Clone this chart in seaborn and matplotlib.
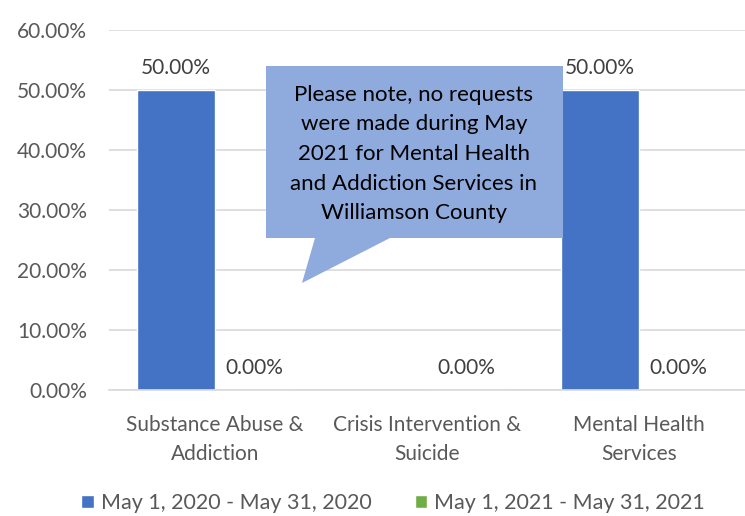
import seaborn as sns
import matplotlib.pyplot as plt
from matplotlib.patches import Polygon
from matplotlib.ticker import PercentFormatter
import pandas as pd
import numpy as np

categories = ['Substance Abuse &\nAddiction', 'Crisis Intervention &\nSuicide', 'Mental Health\nServices']
series_names = ['May 1, 2020 - May 31, 2020', 'May 1, 2021 - May 31, 2021']
values_2020 = [0.50, np.nan, 0.50]
values_2021 = [0.00, 0.00, 0.00]
colors = ['#4472C4', '#70AD47']
note = ('Please note, no requests\nwere made during May\n2021 for Mental Health\n'
        'and Addiction Services in\nWilliamson County')

df = pd.DataFrame({
    'category': categories * 2,
    'period': [series_names[0]] * 3 + [series_names[1]] * 3,
    'share': values_2020 + values_2021,
})

sns.set_theme(style='white')
plt.rcParams['font.family'] = ['Lato', 'DejaVu Sans']

W, H = 745, 516
fig = plt.figure(figsize=(W / 100, H / 100), dpi=100)
ax = fig.add_axes([109 / W, 1 - 390 / H, (W - 109) / W, 360 / H])

sns.barplot(data=df, x='category', y='share', hue='period', hue_order=series_names,
            palette=colors, width=0.735, saturation=1, ax=ax, legend=True, zorder=2)

ax.set_ylim(0, 0.6)
ax.set_xlim(-0.5, 2.5)
ax.set_yticks(np.arange(0, 0.61, 0.1))
ax.yaxis.set_major_formatter(PercentFormatter(1.0, decimals=2))
ax.grid(axis='y', color='#D9D9D9', linewidth=1.2, zorder=0)
ax.set_axisbelow(True)
for s in ['top', 'right', 'left']:
    ax.spines[s].set_visible(False)
ax.spines['bottom'].set_color('#D9D9D9')
ax.spines['bottom'].set_linewidth(1.2)
ax.tick_params(axis='both', length=0, labelsize=15, colors='#595959')
ax.tick_params(axis='x', pad=18)
ax.tick_params(axis='y', pad=16)
for lab in ax.get_xticklabels():
    lab.set_linespacing(1.55)
ax.set_xlabel('')
ax.set_ylabel('')

for container in ax.containers:
    labels = ['' if np.isnan(v) else f'{v * 100:.2f}%' for v in container.datavalues]
    ax.bar_label(container, labels=labels, padding=9, fontsize=15, color='#404040')

handles, lbls = ax.get_legend_handles_labels()
ax.legend_.remove()
fig.legend(handles, lbls, loc='center', bbox_to_anchor=(393 / W, 1 - 503 / H), ncol=2,
           frameon=False, fontsize=15.5, labelcolor='#595959', handlelength=0.6,
           handleheight=0.6, handletextpad=0.3, columnspacing=2.0)

# callout bubble
pts = [(266, 66), (563, 66), (563, 238), (390, 238), (302, 283), (315, 238), (266, 238)]
bubble = Polygon([(x / W, 1 - y / H) for x, y in pts], closed=True, facecolor='#8FAADC',
                 edgecolor='none', transform=fig.transFigure, zorder=5)
fig.patches.append(bubble)
fig.text(414 / W, 1 - 154 / H, note, ha='center', va='center', fontsize=16,
         color='black', linespacing=1.6, zorder=6)

fig.savefig('out.png', dpi=100)
